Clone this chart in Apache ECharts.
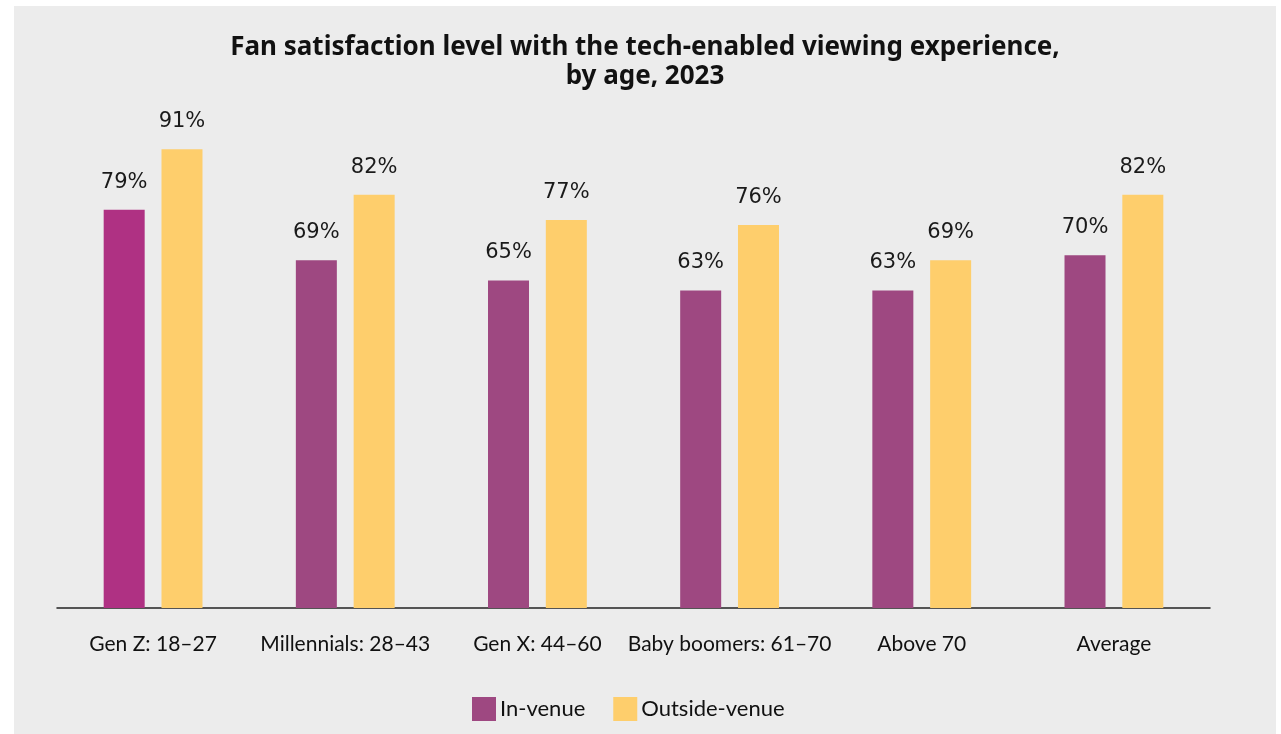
<!DOCTYPE html>
<html>
<head>
<meta charset="utf-8">
<script src="https://cdn.jsdelivr.net/npm/echarts@6/dist/echarts.min.js"></script>
<style>
  html, body { margin: 0; padding: 0; background: #fff; }
  #chart { position: absolute; left: 14px; top: 6px; width: 1262px; height: 728px; background: #ececec; }
</style>
</head>
<body>
<div id="chart"></div>
<script>
var categories = ["Gen Z: 18–27", "Millennials: 28–43", "Gen X: 44–60", "Baby boomers: 61–70", "Above 70", "Average"];
var inVenue = [79, 69, 65, 63, 63, 70];
var outsideVenue = [91, 82, 77, 76, 69, 82];

var chart = echarts.init(document.getElementById("chart"));

var labelStyle = {
  show: true,
  position: "top",
  distance: 17,
  formatter: "{c}%",
  fontFamily: "DejaVu Sans",
  fontSize: 21,
  color: "#1a1a1a"
};

var option = {
  backgroundColor: "#ececec",
  animation: false,
  title: {
    text: "Fan satisfaction level with the tech-enabled viewing experience,\nby age, 2023",
    left: "center",
    top: 22,
    textStyle: {
      fontFamily: "Noto Sans",
      fontWeight: "bold",
      fontSize: 26,
      lineHeight: 29,
      color: "#111"
    }
  },
  legend: {
    bottom: 8,
    left: 453,
    itemWidth: 24,
    itemHeight: 24,
    itemGap: 28,
    icon: "rect",
    textStyle: { fontFamily: "Lato", fontSize: 22, color: "#111", padding: [0, 0, 0, -1] },
    data: ["In-venue", "Outside-venue"]
  },
  grid: { left: 43, right: 66, top: 98, bottom: 126 },
  xAxis: {
    type: "category",
    data: categories,
    axisTick: { show: false },
    axisLine: { lineStyle: { color: "#222", width: 1.5 } },
    axisLabel: {
      margin: 26,
      interval: 0,
      fontFamily: "Lato",
      fontSize: 21,
      color: "#111"
    }
  },
  yAxis: {
    type: "value",
    min: 0,
    max: 100,
    show: false,
    splitLine: { show: false }
  },
  series: [
    {
      name: "In-venue",
      type: "bar",
      barWidth: 41,
      barGap: "41%",
      itemStyle: { color: "#9e4881" },
      label: labelStyle,
      data: inVenue.map(function (v, i) {
        return i === 0 ? { value: v, itemStyle: { color: "#af3183" } } : v;
      })
    },
    {
      name: "Outside-venue",
      type: "bar",
      barWidth: 41,
      itemStyle: { color: "#fece6c" },
      label: labelStyle,
      data: outsideVenue
    }
  ]
};

chart.setOption(option);
</script>
</body>
</html>
